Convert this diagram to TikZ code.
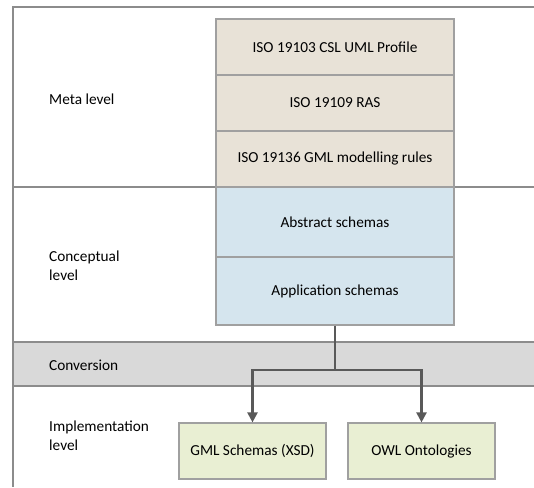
\documentclass[tikz,border=0pt]{standalone}
\usepackage{fontspec}
\setmainfont{Carlito}
\usetikzlibrary{arrows.meta}
\definecolor{frameline}{HTML}{8C8C8C}
\definecolor{boxline}{HTML}{A0A0A0}
\definecolor{tanfill}{HTML}{E8E2D7}
\definecolor{bluefill}{HTML}{D5E5EE}
\definecolor{greenfill}{HTML}{E9EFD3}
\definecolor{bandfill}{HTML}{D9D9D9}
\definecolor{arrowcol}{HTML}{595959}
\tikzset{
  layerbox/.style={draw=boxline, line width=1.2pt, minimum width=238pt, inner sep=0pt, font=\fontsize{15.3}{18}\selectfont},
  tanbox/.style={layerbox, fill=tanfill, minimum height=56pt},
  bluebox/.style={layerbox, fill=bluefill},
  implbox/.style={draw=boxline, line width=1.2pt, fill=greenfill, minimum width=147pt, minimum height=56pt, inner sep=0pt, font=\fontsize{15.3}{18}\selectfont},
  levellabel/.style={anchor=west, align=left, inner sep=0pt, font=\fontsize{15.3}{19}\selectfont},
  conn/.style={draw=arrowcol, line width=2.2pt},
  connarrow/.style={conn, -{Triangle[width=10pt,length=10pt]}},
}
\begin{document}
\begin{tikzpicture}[x=1pt,y=-1pt]
\useasboundingbox (0,0) rectangle (534,487);
% grey conversion band
\fill[bandfill] (13,342) rectangle (534,386);
% frame lines
\draw[frameline, line width=1.3pt] (534,7) -- (13,7) -- (13,487);
\draw[frameline, line width=1.3pt] (13,187) -- (534,187);
\draw[frameline, line width=1.3pt] (13,342) -- (534,342);
\draw[frameline, line width=1.3pt] (13,386) -- (534,386);
% level labels
\node[levellabel] (lmeta) at (49,99) {Meta level};
\node[levellabel] (lconc) at (49,266) {Conceptual\\level};
\node[levellabel] (lconv) at (49,365) {Conversion};
\node[levellabel] (limpl) at (49,436) {Implementation\\level};
% meta stack
\node[tanbox] (csl) at (335,47) {ISO 19103 CSL UML Profile};
\node[tanbox] (ras) at (335,103) {ISO 19109 RAS};
\node[tanbox] (gmlr) at (335,159) {ISO 19136 GML modelling rules};
% conceptual stack
\node[bluebox, minimum height=70pt] (abs) at (335,222) {Abstract schemas};
\node[bluebox, minimum height=68pt] (app) at (335,291) {Application schemas};
% implementation
\node[implbox] (xsd) at (252.5,451) {GML Schemas (XSD)};
\node[implbox] (owl) at (421.5,451) {OWL Ontologies};
% connectors
\coordinate (j) at (335,370);
\draw[conn] (app.south) -- (j);
\draw[connarrow] (j) -| (xsd.north);
\draw[connarrow] (j) -| (owl.north);
\end{tikzpicture}
\end{document}
